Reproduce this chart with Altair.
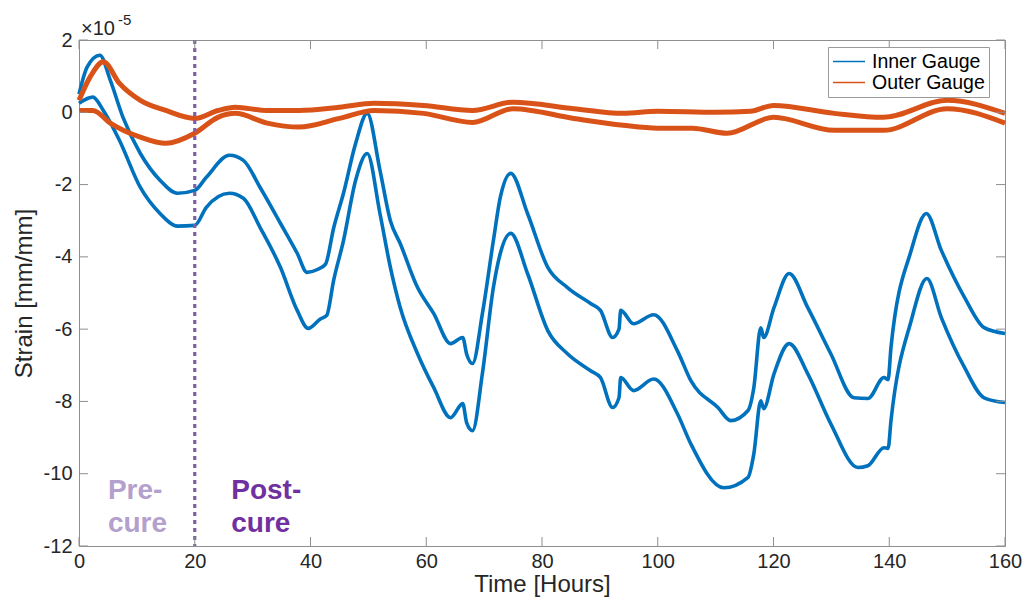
import altair as alt
import pandas as pd

# ---- data (strain in units of 1e-5 mm/mm) ----
inner_a_t = [0, 1.4, 3.6, 5.4, 7.6, 10.6, 14, 17, 20, 22, 26, 28.4, 31.3, 34.8, 37.7, 39.4, 41.2, 42.6,
             44, 45.7, 47.8, 49.8, 52, 53.8, 55.5, 58.5, 61.3, 64.2, 66.3, 67, 68, 69.7, 71.6, 72.8, 74.6,
             77.5, 81, 84.4, 88.4, 90.1, 92.2, 93.3, 93.6, 95.8, 99.3, 103.4, 105.7, 110.4, 112.6, 115.6,
             116.6, 117.8, 118.3, 120.1, 122.7, 125.9, 129.9, 133.9, 136.3, 139.1, 139.8, 140.3, 143.8,
             146.4, 149, 153, 156.4, 160]
inner_a_v = [0.5, 1.25, 1.58, 0.89, -0.14, -1.14, -1.88, -2.24, -2.16, -1.8, -1.19, -1.33, -2.08, -3.07, -3.9,
             -4.43, -4.35, -4.2, -3.2, -2.24, -0.86, -0.03, -1.6, -3.0, -3.63, -4.85, -5.57, -6.4,
             -6.23, -6.7, -6.95, -5.57, -3.55, -2.35, -1.69, -2.8, -4.29, -4.85, -5.29, -5.48, -6.23, -6.0,
             -5.48, -5.85, -5.6, -6.6, -7.42, -8.17, -8.53, -8.25, -7.62, -5.96, -6.23, -5.4, -4.46, -5.4,
             -6.68, -7.9, -7.92, -7.34, -7.4, -6.5, -3.82, -2.8, -3.82, -5.12, -5.96, -6.12]

inner_b_t = [0, 2.4, 4.2, 7, 10.6, 14, 17, 20, 22, 26, 28.4, 31.3, 34.8, 37.7, 39.6, 41.7, 42.8, 44, 45.7,
             47.8, 49.8, 52, 53.8, 55.5, 58.5, 61.3, 64.2, 66.3, 67, 68, 69.7, 71.6, 72.8, 74.6, 77.5, 81,
             84.4, 88.4, 90.1, 92.2, 93.3, 93.6, 95.8, 99.3, 103.4, 105.7, 111.4, 115.6, 116.6, 117.8,
             118.3, 120.1, 122.7, 125.9, 129.9, 134.6, 136.3, 139.1, 139.8, 140.3, 143.8, 146.5, 149, 153,
             156.4, 160]
inner_b_v = [0.25, 0.42, 0.05, -0.78, -2.08, -2.8, -3.15, -3.13, -2.63, -2.24, -2.38, -3.19, -4.29, -5.48,
             -5.98, -5.72, -5.62, -4.65, -3.55, -1.88, -1.14, -2.8, -4.29, -5.4, -6.68, -7.62, -8.45, -8.06,
             -8.6, -8.81, -7.23, -4.85, -3.9, -3.35, -4.46, -6.04, -6.68, -7.15, -7.34, -8.17, -7.9, -7.34,
             -7.7, -7.38, -8.34, -9.17, -10.39, -10.1, -9.45, -7.98, -8.2, -7.23, -6.4, -7.23, -8.62, -9.83,
             -9.78, -9.28, -9.3, -8.53, -5.76, -4.6, -5.68, -7.06, -7.9, -8.03]

outer_a_t = [0, 2, 4.2, 7, 10.6, 15, 20, 24, 27, 32.5, 38, 45, 51, 59.5, 68, 75, 85.5, 94, 100, 110, 116,
             120, 130.5, 139, 150, 160]
outer_a_v = [0.33, 1.0, 1.4, 0.8, 0.33, 0.05, -0.17, 0.05, 0.14, 0.05, 0.05, 0.14, 0.25, 0.19, 0.05, 0.28,
             0.1, -0.03, 0.03, 0.0, 0.03, 0.19, -0.03, -0.14, 0.33, -0.03]

outer_b_t = [0, 2.4, 5.4, 10.6, 15, 20, 24, 27, 32.5, 38, 45, 51, 59.5, 68, 75, 85.5, 94, 100, 106, 112,
             120, 130.5, 139, 150, 160]
outer_b_v = [0.05, 0.05, -0.3, -0.69, -0.86, -0.58, -0.14, -0.03, -0.3, -0.41, -0.17, 0.05, -0.03, -0.28,
             0.1, -0.17, -0.36, -0.44, -0.44, -0.58, -0.14, -0.5, -0.5, 0.1, -0.3]

gauges = ["Inner Gauge", "Outer Gauge"]
gauge_colors = ["#0072BD", "#D95319"]
x_ticks = [0, 20, 40, 60, 80, 100, 120, 140, 160]
y_ticks = [-12, -10, -8, -6, -4, -2, 0, 2]
cure_time = [20]
pre_labels = ["Pre-", "cure"]
post_labels = ["Post-", "cure"]
label_rows_v = [-10.70, -11.61]
pre_t = 5.0
post_t = 26.3


def frame(ts, vs, gauge, trace):
    return pd.DataFrame({"t": ts, "v": vs, "gauge": gauge, "trace": trace})


inner_df = pd.concat([frame(inner_a_t, inner_a_v, gauges[0], "ia"),
                      frame(inner_b_t, inner_b_v, gauges[0], "ib")])
outer_df = pd.concat([frame(outer_a_t, outer_a_v, gauges[1], "oa"),
                      frame(outer_b_t, outer_b_v, gauges[1], "ob")])

FONT = "Liberation Sans"
TXT = "#262626"
FRAME = "#8f8f8f"
W, H = 926, 506

xs = alt.Scale(domain=[0, 160], nice=False, zero=False)
ys = alt.Scale(domain=[-12, 2], nice=False, zero=False)
cs = alt.Scale(domain=gauges, range=gauge_colors)

x_axis = alt.Axis(values=x_ticks, title="Time [Hours]", grid=False, domain=False, ticks=False, tickSize=0,
                  labelFlush=False, labelExpr="'' + datum.value",
                  labelFont=FONT, labelFontSize=20, labelColor=TXT, labelPadding=5,
                  titleFont=FONT, titleFontSize=24, titleFontWeight="normal", titleColor=TXT, titlePadding=1)
y_axis = alt.Axis(values=y_ticks, title="Strain [mm/mm]", grid=False, domain=False, ticks=False, tickSize=0,
                  labelFlush=False, labelExpr="'' + datum.value",
                  labelFont=FONT, labelFontSize=20, labelColor=TXT, labelPadding=7,
                  titleFont=FONT, titleFontSize=24, titleFontWeight="normal", titleColor=TXT, titlePadding=7)

X = alt.X("t:Q", scale=xs, axis=x_axis)
Y = alt.Y("v:Q", scale=ys, axis=y_axis)

legend = alt.Legend(orient="none", legendX=749, legendY=7, title=None, symbolType="stroke",
                    symbolSize=1024, symbolStrokeWidth=1.3, clipHeight=21, labelFontSize=19.5,
                    labelFont=FONT, labelColor="black", padding=4, rowPadding=0, labelOffset=6,
                    fillColor="white", strokeColor="#9a9a9a")
C = alt.Color("gauge:N", scale=cs, legend=legend)

inner = alt.Chart(inner_df).mark_line(strokeWidth=3.6, interpolate="monotone").encode(
    x=X, y=Y, color=C, detail="trace:N")
outer = alt.Chart(outer_df).mark_line(strokeWidth=5, interpolate="monotone").encode(
    x=X, y=Y, color=C, detail="trace:N")

xt = pd.DataFrame({"t": x_ticks})
yt = pd.DataFrame({"v": y_ticks})
tick_style = dict(color=FRAME, strokeWidth=1)
xtick_b = alt.Chart(xt).mark_rule(**tick_style).encode(x=X, y=alt.value(H), y2=alt.value(H - 9))
xtick_t = alt.Chart(xt).mark_rule(**tick_style).encode(x=X, y=alt.value(0), y2=alt.value(9))
ytick_l = alt.Chart(yt).mark_rule(**tick_style).encode(y=Y, x=alt.value(0), x2=alt.value(9))
ytick_r = alt.Chart(yt).mark_rule(**tick_style).encode(y=Y, x=alt.value(W), x2=alt.value(W - 9))

cure = alt.Chart(pd.DataFrame({"t": cure_time})).mark_rule(
    color="#7d5fa8", strokeWidth=3.2, strokeDash=[4, 4]).encode(
    x=X, y=alt.value(0), y2=alt.value(H))

pre_df = pd.DataFrame({"t": [pre_t] * 2, "v": label_rows_v, "txt": pre_labels})
post_df = pd.DataFrame({"t": [post_t] * 2, "v": label_rows_v, "txt": post_labels})
pre_text = alt.Chart(pre_df).mark_text(align="left", baseline="alphabetic", font=FONT, fontSize=28,
                                       fontWeight="bold", color="#b3a0cc").encode(x=X, y=Y, text="txt:N")
post_text = alt.Chart(post_df).mark_text(align="left", baseline="alphabetic", font=FONT, fontSize=28,
                                         fontWeight="bold", color="#7030a0").encode(x=X, y=Y, text="txt:N")

exp_base = alt.Chart(pd.DataFrame({"s": ["\u00d710"]})).mark_text(
    align="left", baseline="alphabetic", font=FONT, fontSize=20, color=TXT).encode(
    x=alt.value(2), y=alt.value(-5), text="s:N")
exp_sup = alt.Chart(pd.DataFrame({"s": ["-5"]})).mark_text(
    align="left", baseline="alphabetic", font=FONT, fontSize=15, color=TXT).encode(
    x=alt.value(39), y=alt.value(-15), text="s:N")

chart = alt.layer(
    inner, outer, cure, xtick_b, xtick_t, ytick_l, ytick_r, pre_text, post_text, exp_base, exp_sup
).properties(
    width=W, height=H, autosize=alt.AutoSizeParams(type="none"),
    padding={"left": 79, "top": 40, "right": 20, "bottom": 56},
    background="white",
).configure_view(stroke=FRAME, strokeWidth=1)

chart.save("out.html", embed_options={"renderer": "svg", "actions": False})
